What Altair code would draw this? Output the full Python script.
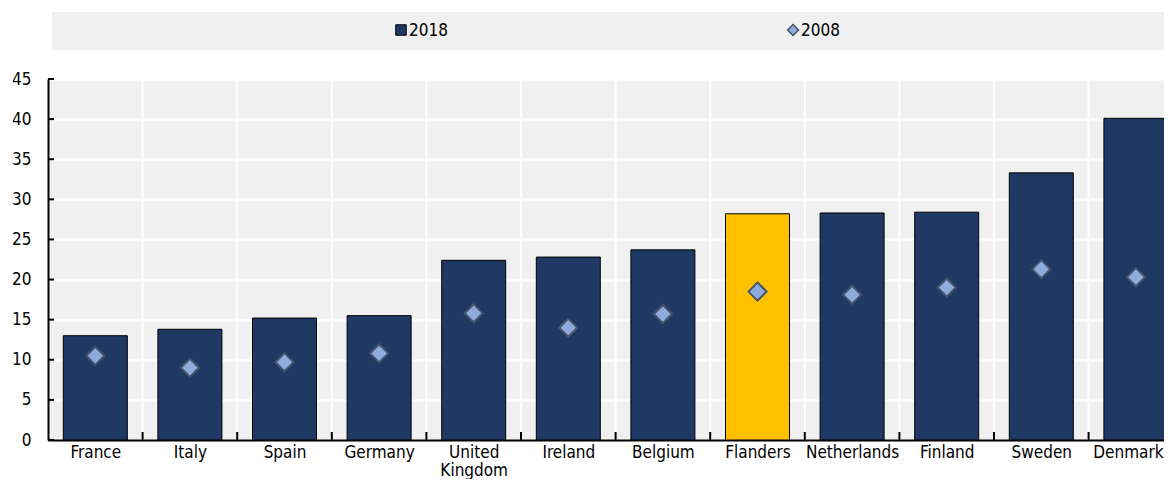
import json
import altair as alt
import pandas as pd

countries = ["France", "Italy", "Spain", "Germany", "United Kingdom", "Ireland",
             "Belgium", "Flanders", "Netherlands", "Finland", "Sweden", "Denmark"]
v2018 = [13.0, 13.8, 15.2, 15.5, 22.4, 22.8, 23.7, 28.2, 28.3, 28.4, 33.3, 40.1]
v2008 = [10.5, 9.0, 9.7, 10.8, 15.8, 14.0, 15.7, 18.5, 18.1, 19.0, 21.3, 20.3]
y_ticks = [0, 5, 10, 15, 20, 25, 30, 35, 40, 45]
series_labels = ["2018", "2008"]

FONT = "DejaVu Sans Condensed, Liberation Sans, sans-serif"
FS = 17
NAVY = "#203864"
YELLOW = "#FFC000"
DIAMOND = "#8FAADC"
DIAMOND_STROKE = "#44546A"
BG = "#F0F0F0"

W = 1116
H = 361

n = len(countries)
df = pd.DataFrame({"country": countries, "idx": list(range(n)), "v2018": v2018, "v2008": v2008})
df["pos"] = df["idx"] + 0.5
bounds = pd.DataFrame({"b": list(range(1, n))})

# label lines (United Kingdom wraps onto two lines)
label_lines = [c.split(" ") if " " in c else c for c in countries]
label_expr = json.dumps(label_lines) + "[floor(datum.value)]"

# the reference crops the last band slightly at the right edge
xscale = alt.Scale(domain=[0, 11.797], nice=False, zero=False, padding=0)
yscale = alt.Scale(domain=[0, 45], nice=False, padding=0)

vgrid = alt.Chart(bounds).mark_rule(color="white", strokeWidth=2).encode(
    x=alt.X("b:Q", scale=xscale), y=alt.value(0), y2=alt.value(H)
)

bars = alt.Chart(df).mark_bar(stroke="#000", strokeWidth=1, width=64).encode(
    x=alt.X(
        "pos:Q", title=None, scale=xscale,
        axis=alt.Axis(
            values=[i + 0.5 for i in range(n)], labelExpr=label_expr,
            labelAngle=0, labelFont=FONT, labelFontSize=FS, labelColor="#000",
            labelPadding=4, labelLineHeight=18, labelFlush=False, labelOverlap=False,
            labelOffset={"condition": {"test": "datum.value > 11", "value": -8}, "value": 0},
            ticks=False, grid=False, domainColor="#000", domainWidth=2,
        ),
    ),
    y=alt.Y(
        "v2018:Q", title=None, scale=yscale,
        axis=alt.Axis(
            values=y_ticks, labelFont=FONT, labelFontSize=FS,
            labelColor="#000", labelPadding=17, ticks=False,
            domainColor="#000", domainWidth=2, grid=True,
            gridColor="white", gridWidth=2,
        ),
    ),
    color=alt.condition(alt.datum.country == "Flanders", alt.value(YELLOW), alt.value(NAVY)),
)

points = alt.Chart(df).mark_point(
    shape="diamond", filled=True, size=330, fill=DIAMOND, stroke=DIAMOND_STROKE,
    strokeWidth=2, opacity=1,
).encode(
    x=alt.X("pos:Q", scale=xscale),
    y=alt.Y("v2008:Q", scale=yscale),
)

x_inner_ticks = alt.Chart(bounds).mark_rule(color="#000", strokeWidth=2).encode(
    x=alt.X("b:Q", scale=xscale), y=alt.value(H - 8), y2=alt.value(H),
)

y_inner_ticks = alt.Chart(pd.DataFrame({"v": y_ticks})).mark_rule(
    color="#000", strokeWidth=2
).encode(
    y=alt.Y("v:Q", scale=yscale), x=alt.value(0), x2=alt.value(6),
)

one = pd.DataFrame({"a": [0]})
legend_bg = alt.Chart(one).mark_rect(fill=BG).encode(
    x=alt.value(4), x2=alt.value(W), y=alt.value(-67), y2=alt.value(-29)
)
leg_sq = alt.Chart(one).mark_square(
    size=110, fill=NAVY, stroke="#000", strokeWidth=1, opacity=1
).encode(x=alt.value(353), y=alt.value(-49))
leg_dm = alt.Chart(one).mark_point(
    shape="diamond", size=121, filled=True, fill=DIAMOND, stroke=DIAMOND_STROKE,
    strokeWidth=1.5, opacity=1
).encode(x=alt.value(745), y=alt.value(-49))
leg_t1 = alt.Chart(pd.DataFrame({"label": [series_labels[0]]})).mark_text(
    align="left", baseline="middle", font=FONT, fontSize=FS, color="#000"
).encode(x=alt.value(361), y=alt.value(-48), text="label:N")
leg_t2 = alt.Chart(pd.DataFrame({"label": [series_labels[1]]})).mark_text(
    align="left", baseline="middle", font=FONT, fontSize=FS, color="#000"
).encode(x=alt.value(753), y=alt.value(-48), text="label:N")

chart = alt.layer(
    vgrid, bars, points, x_inner_ticks, y_inner_ticks,
    legend_bg, leg_sq, leg_dm, leg_t1, leg_t2
).properties(
    width=W, height=H,
    autosize=alt.AutoSizeParams(type="none"),
    padding={"left": 40, "top": 71, "right": 0, "bottom": 39},
).configure_view(fill=BG, stroke=None)

chart.save("out.html", embed_options={"renderer": "svg", "actions": False})
